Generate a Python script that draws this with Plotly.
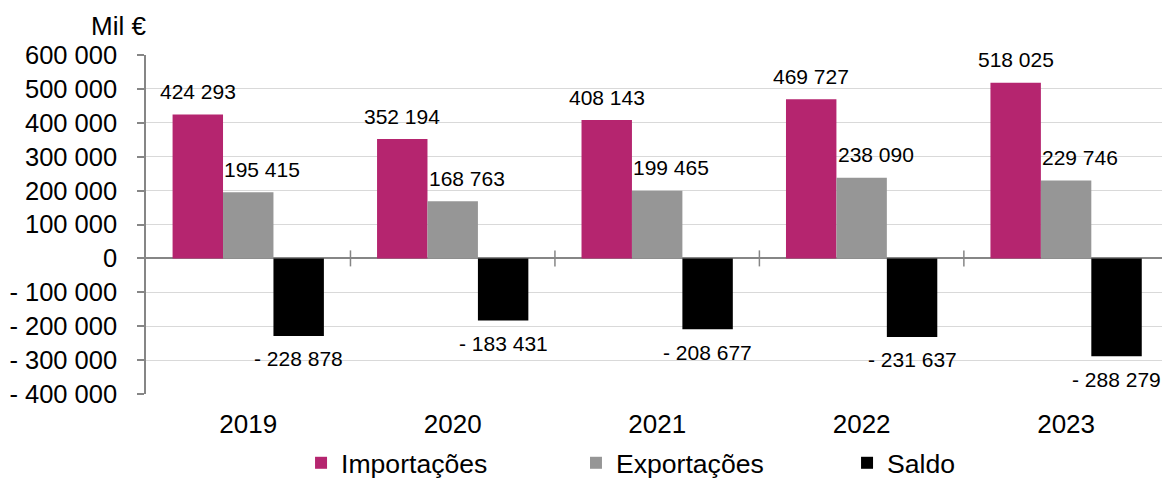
import plotly.graph_objects as go

years = ["2019", "2020", "2021", "2022", "2023"]
importacoes = [424293, 352194, 408143, 469727, 518025]
exportacoes = [195415, 168763, 199465, 238090, 229746]
saldo = [-228878, -183431, -208677, -231637, -288279]
y_ticks = [-400000, -300000, -200000, -100000, 0, 100000, 200000, 300000, 400000, 500000, 600000]
unit_label = "Mil €"

FONT = "Liberation Sans, Arial, sans-serif"
C_IMP = "#B5256F"
C_EXP = "#969696"
C_SAL = "#000000"
AXIS_C = "#868686"


def fmt(v):
    s = f"{abs(v):,}".replace(",", " ")
    return ("- " if v < 0 else "") + s


fig = go.Figure()
fig.add_trace(go.Bar(name="Importações", x=years, y=importacoes, marker_color=C_IMP,
                     marker_line_width=0, legend="legend"))
fig.add_trace(go.Bar(name="Exportações", x=years, y=exportacoes, marker_color=C_EXP,
                     marker_line_width=0, legend="legend2"))
fig.add_trace(go.Bar(name="Saldo", x=years, y=saldo, marker_color=C_SAL,
                     marker_line_width=0, legend="legend3"))

# value labels (positioned at category index + pixel offset of the bar in its group)
BAR_PX = 50.5
series = [(importacoes, -BAR_PX), (exportacoes, 14), (saldo, BAR_PX)]
for vals, xs in series:
    for i, v in enumerate(vals):
        fig.add_annotation(x=i, y=v, xref="x", yref="y", text=fmt(v), showarrow=False,
                           xshift=xs, yshift=23 if v >= 0 else -23, yanchor="middle",
                           font=dict(family=FONT, size=21, color="#000000"))

# unit label
fig.add_annotation(x=0, y=1.087, xref="paper", yref="paper", text=unit_label,
                   showarrow=False, xanchor="right", yanchor="middle", xshift=2,
                   font=dict(family=FONT, size=26, color="#000000"))

# category boundary ticks on zero line
for i in range(len(years)):
    fig.add_shape(type="line", xref="x", yref="y", x0=i + 0.5, x1=i + 0.5,
                  ysizemode="pixel", yanchor=0, y0=-8, y1=8,
                  line=dict(color=AXIS_C, width=1.5), layer="above")

legend_common = dict(orientation="h", yref="container", y=0.0314, yanchor="middle",
                     xanchor="left", font=dict(family=FONT, size=26.6, color="#000000"),
                     bgcolor="rgba(0,0,0,0)")

fig.update_layout(
    template="none",
    width=1162, height=478,
    margin=dict(l=146, r=0, t=55, b=84, autoexpand=False),
    paper_bgcolor="white", plot_bgcolor="white",
    barmode="group", bargap=0.26, bargroupgap=0,
    showlegend=True,
    font=dict(family=FONT, size=24, color="#000000"),
    legend=dict(x=0.1526, **legend_common),
    legend2=dict(x=0.4232, **legend_common),
    legend3=dict(x=0.6900, **legend_common),
    xaxis=dict(type="category", range=[-0.5, 4.469], showgrid=False, showline=False,
               ticks="", automargin=False,
               tickfont=dict(family=FONT, size=26, color="#000000"),
               ticklabelstandoff=12, zeroline=False),
    yaxis=dict(range=[-400000, 600000], tickvals=y_ticks,
               ticktext=[fmt(v) for v in y_ticks], automargin=False,
               showgrid=True, gridcolor="#D9D9D9", gridwidth=1,
               zeroline=True, zerolinecolor=AXIS_C, zerolinewidth=1.5,
               showline=True, linecolor=AXIS_C, linewidth=1.5,
               ticks="outside", ticklen=7, tickcolor=AXIS_C, tickwidth=1.5,
               ticklabelstandoff=15,
               tickfont=dict(family=FONT, size=25.5, color="#000000")),
)

fig.write_html("out.html", config={"displayModeBar": False},
               post_script="document.body.style.margin='0';document.body.style.padding='0';")
